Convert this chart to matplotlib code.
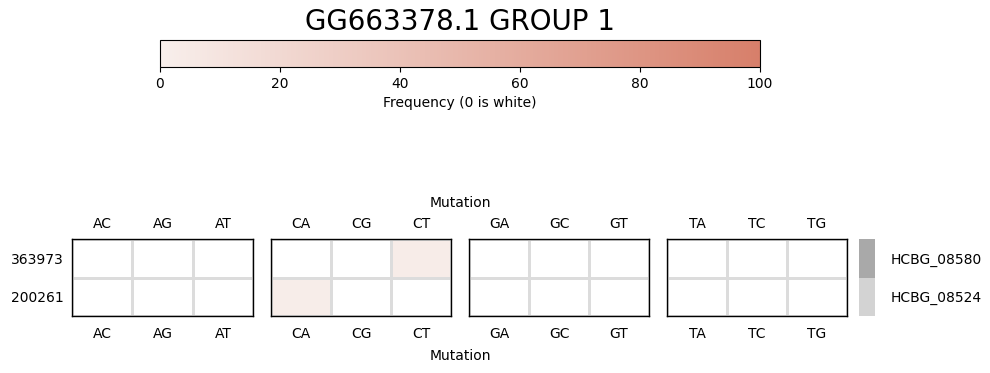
"""Per-sample mutation frequency heatmap, split into blocks by reference base."""
import numpy as np
import matplotlib
matplotlib.use("Agg")
import matplotlib.pyplot as plt
from matplotlib.colors import LinearSegmentedColormap, Normalize, ListedColormap

title = "GG663378.1 GROUP 1"
samples = ["363973", "200261"]
sample_groups = ["HCBG_08580", "HCBG_08524"]
group_colours = ["#a9a9a9", "#d3d3d3"]
mutations = ["AC", "AG", "AT", "CA", "CG", "CT", "GA", "GC", "GT", "TA", "TC", "TG"]
# frequency (%) per sample (rows) and mutation (cols)
freq_363973 = [0, 0, 0, 0, 0, 3, 0, 0, 0, 0, 0, 0]
freq_200261 = [0, 0, 0, 2, 0, 0, 0, 0, 0, 0, 0, 0]

freq = np.array([freq_363973, freq_200261], dtype=float)
cmap = LinearSegmentedColormap.from_list("freq", ["#f8efec", "#d77f6a"])
cmap.set_bad("white")
norm = Normalize(0, 100)

fig = plt.figure(figsize=(9.9, 3.73), dpi=100)
W, H = 990, 373


def px_axes(x0, y0, x1, y1):
    return fig.add_axes([x0 / W, 1 - y1 / H, (x1 - x0) / W, (y1 - y0) / H])


fig.text(460 / W, 1 - 22 / H, title, ha="center", va="center", fontsize=20)

cax = px_axes(160, 40, 760, 67)
sm = plt.cm.ScalarMappable(norm=norm, cmap=cmap)
cb = fig.colorbar(sm, cax=cax, orientation="horizontal")
cb.set_ticks(range(0, 101, 20))
cb.set_label("Frequency (0 is white)")
cb.outline.set_edgecolor("black")

panel_x = [(72, 253), (271, 451), (469, 649), (667, 847)]
masked = np.ma.masked_equal(freq, 0)
for i, (x0, x1) in enumerate(panel_x):
    ax = px_axes(x0, 239, x1, 316)
    block = masked[:, 3 * i:3 * i + 3]
    labels = mutations[3 * i:3 * i + 3]
    ax.pcolormesh(block, cmap=cmap, norm=norm, edgecolors="#dcdcdc", linewidth=2)
    ax.set_xlim(0, 3)
    ax.set_ylim(2, 0)
    ax.set_xticks(np.arange(3) + 0.5)
    ax.set_xticklabels(labels)
    ax.tick_params(axis="x", length=0, pad=8)
    top = ax.secondary_xaxis("top")
    top.set_xticks(np.arange(3) + 0.5)
    top.set_xticklabels(labels)
    top.tick_params(length=0, pad=6)
    top.spines["top"].set_visible(False)
    if i == 0:
        ax.set_yticks(np.arange(2) + 0.5)
        ax.set_yticklabels(samples)
        ax.tick_params(axis="y", length=0, pad=6)
    else:
        ax.set_yticks([])
    for s in ax.spines.values():
        s.set_edgecolor("black")
        s.set_linewidth(1)

fig.text(460 / W, 1 - 203 / H, "Mutation", ha="center", va="center")
fig.text(460 / W, 1 - 356 / H, "Mutation", ha="center", va="center")

rax = px_axes(859, 239, 875, 316)
rax.pcolormesh(np.array([[0], [1]]), cmap=ListedColormap(group_colours))
rax.set_ylim(2, 0)
rax.set_xticks([])
rax.set_yticks(np.arange(2) + 0.5)
rax.set_yticklabels(sample_groups)
rax.yaxis.tick_right()
rax.tick_params(axis="y", length=0, pad=11)
for s in rax.spines.values():
    s.set_visible(False)

fig.savefig("out.png", dpi=100)
